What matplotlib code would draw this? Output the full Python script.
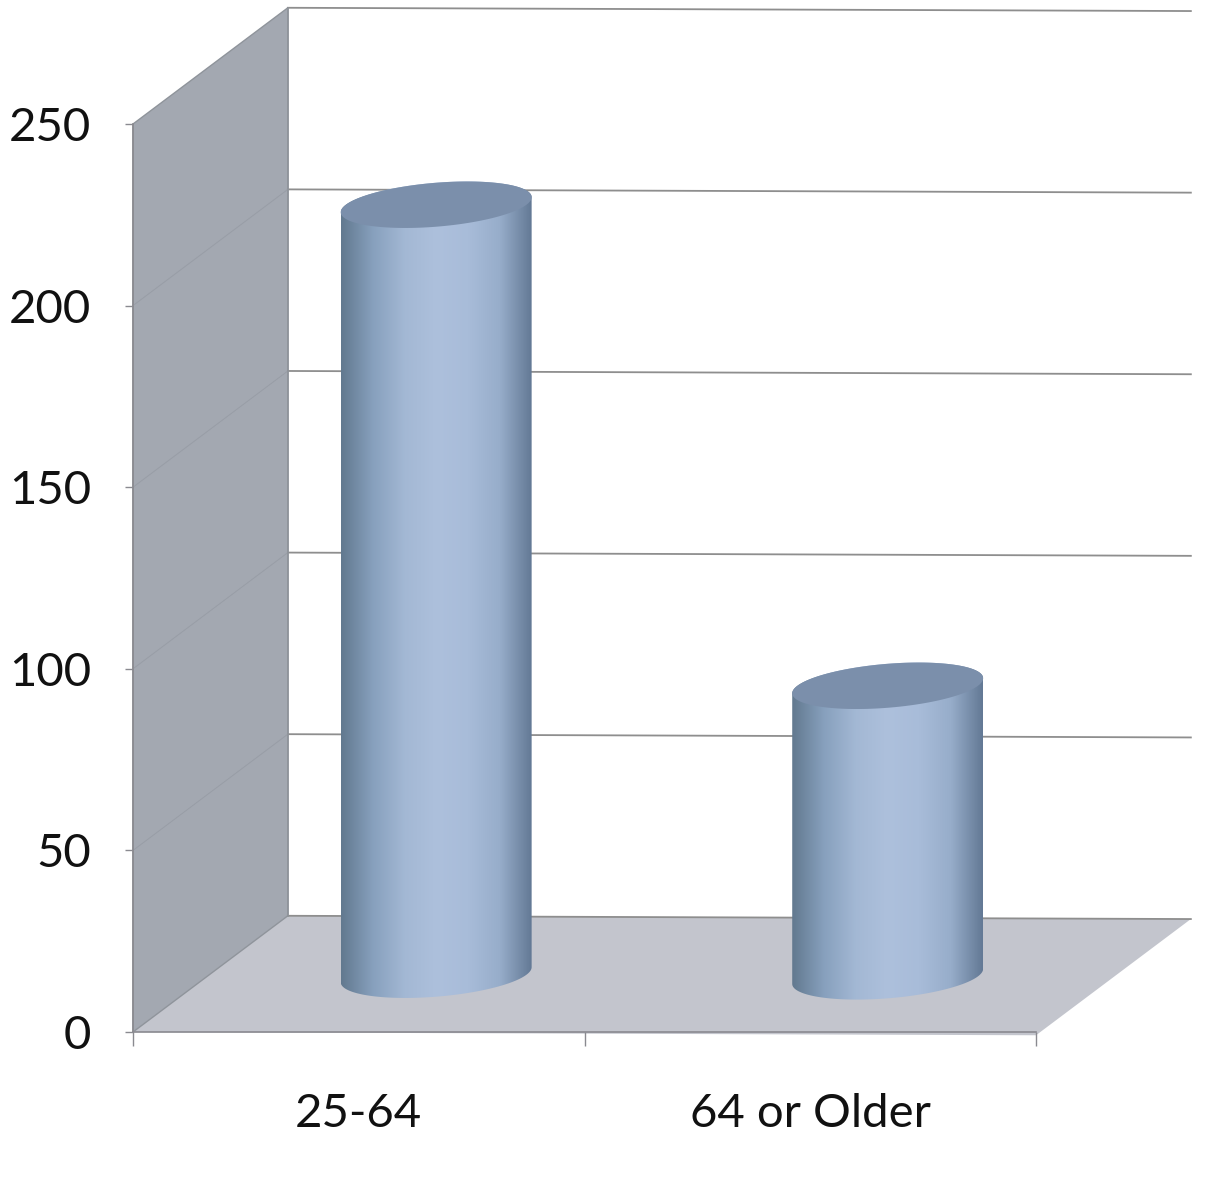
import numpy as np
import matplotlib.pyplot as plt
from matplotlib.colors import LinearSegmentedColormap
from matplotlib.patches import Polygon

plt.switch_backend('agg')
plt.rcParams['font.family'] = ['Lato', 'DejaVu Sans']

categories = ['25-64', '64 or Older']
values = [212, 80]
y_ticks = [0, 50, 100, 150, 200, 250]

# depth direction of the fake 3d box, in data units
depth_x = 0.343
depth_y = 32.0
droop = 0.9   # gridlines sag a little to the right
bar_r = 0.2

fig = plt.figure(figsize=(12.15, 11.91), dpi=100)
ax = fig.add_axes([133 / 1215, 1 - 1032 / 1191, 903 / 1215, 908 / 1191])


def proj(x, y, d):
    return x + d * depth_x, y + d * depth_y - droop * x / 2


# floor and side wall
floor = [proj(0, 0, 0), proj(2, 0, 0), proj(2, 0, 1), proj(0, 0, 1)]
wall = [proj(0, 0, 0), proj(0, 0, 1), proj(0, 250, 1), proj(0, 250, 0)]
ax.add_patch(Polygon(floor, fc='#c3c5cd', ec='none', clip_on=False, zorder=1))
ax.add_patch(Polygon(wall, fc='#a3a8b1', ec='#8f949b', lw=1, clip_on=False, zorder=1))

# gridlines, back wall and side wall
for v in y_ticks:
    p0 = proj(0, v, 0)
    p1 = proj(0, v, 1)
    p2 = proj(2, v, 1)
    ax.plot([p1[0], p2[0]], [p1[1], p2[1]], color='#8e8e8e', lw=1.3, clip_on=False, zorder=2)
    if v not in (0, 250):
        ax.plot([p0[0], p1[0]], [p0[1], p1[1]], color='#989da6', lw=0.7, clip_on=False, zorder=2)
p1 = proj(0, 0, 1)
p2 = proj(0, 250, 1)
ax.plot([p1[0], p2[0]], [p1[1], p2[1]], color='#8f949b', lw=1.2, clip_on=False, zorder=2)

# cylinders
body_cmap = LinearSegmentedColormap.from_list(
    'body', ['#62798f', '#87a0bd', '#a3b8d4', '#adc0dc', '#a8bcd9', '#97adca', '#637995'])
t = np.linspace(0, 2 * np.pi, 200)
for i, val in enumerate(values):
    cx = i + 0.5
    ex = cx + bar_r * np.cos(t) + 0.5 * depth_x + 0.2 * depth_x * np.sin(t)
    ey = 0.5 * depth_y + 0.2 * depth_y * np.sin(t) - droop * cx / 2

    # body outline: lower half of the bottom ellipse, upper half of the top one
    a = np.argmin(ex)
    b = np.argmax(ex)
    chord = np.interp(ex, [ex[a], ex[b]], [ey[a], ey[b]])
    low = np.where(ey <= chord)[0]
    high = np.where(ey >= chord)[0]
    low = low[np.argsort(ex[low])]
    high = high[np.argsort(-ex[high])]
    outline = np.vstack([np.column_stack([ex[low], ey[low]]),
                         np.column_stack([ex[high], ey[high] + val])])
    body = Polygon(outline, fc='none', ec='none', clip_on=False, zorder=3)
    ax.add_patch(body)
    grad = np.linspace(0, 1, 256).reshape(1, -1)
    im = ax.imshow(grad, cmap=body_cmap, extent=[ex.min(), ex.max(), 0, val + depth_y], aspect='auto', zorder=3)
    im.set_clip_path(body)

    ax.add_patch(Polygon(np.column_stack([ex, ey + val]), fc='#7b8fab', ec='none', clip_on=False, zorder=4))

ax.set_xlim(0, 2)
ax.set_ylim(0, 250)

for s in ['top', 'right']:
    ax.spines[s].set_visible(False)
for s in ['left', 'bottom']:
    ax.spines[s].set_color('#8a8a90')
    ax.spines[s].set_linewidth(1.2)
    ax.spines[s].set_zorder(2)
ax.patch.set_alpha(0)

ax.set_yticks(y_ticks)
ax.set_xticks([0, 1, 2])
ax.set_xticklabels([])
ax.set_xticks([0.5, 1.5], minor=True)
ax.set_xticklabels(categories, minor=True)
ax.tick_params(axis='x', which='major', length=10, width=1, color='#8a8a90')
ax.tick_params(axis='x', which='minor', length=0, pad=44, labelsize=34, labelcolor='#111111')
ax.tick_params(axis='y', length=6, width=1, color='#8a8a90', pad=24, labelsize=34, labelcolor='#111111')

plt.savefig('out.png', dpi=100)
